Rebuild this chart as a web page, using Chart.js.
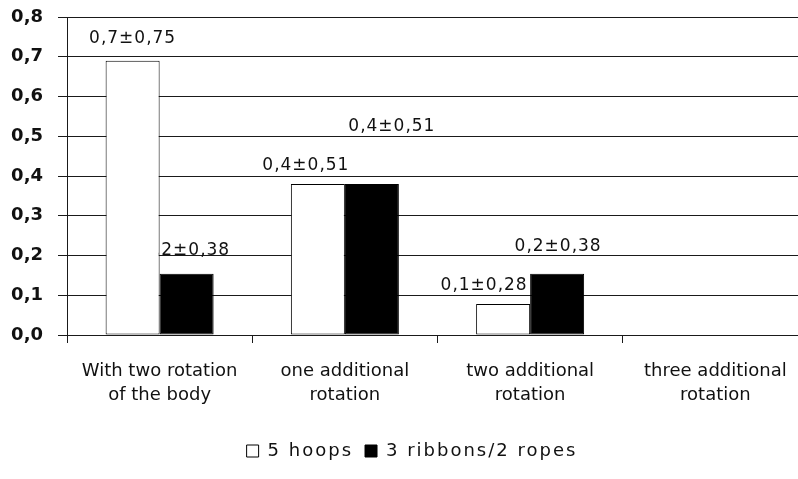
<!DOCTYPE html>
<html>
<head>
<meta charset="utf-8">
<script src="https://cdn.jsdelivr.net/npm/chart.js@4/dist/chart.umd.min.js"></script>
<style>
  html, body { margin: 0; padding: 0; background: #fff; overflow: hidden; }
  #wrap { width: 808px; height: 479px; }
</style>
</head>
<body>
<div id="wrap"><canvas id="chart" width="808" height="479"></canvas></div>
<script>
// Rotation groups on the x axis
const categories = [
  ['With two rotation', 'of the body'],
  ['one additional', 'rotation'],
  ['two additional', 'rotation'],
  ['three additional', 'rotation']
];

// Series names
const seriesNames = ['5 hoops', '3 ribbons/2 ropes'];

// Mean values per group
const hoopsMean   = [0.69, 0.38, 0.078, 0];
const ribbonsMean = [0.154, 0.38, 0.154, 0];

// Standard deviations shown next to the means
const hoopsSD   = [0.75, 0.51, 0.28, null];
const ribbonsSD = [0.38, 0.51, 0.38, null];

// Value axis range
const yMin = 0;
const yMax = 0.8;
const yStep = 0.1;

const FONT = 'DejaVu Sans';
const INK = '#111';

const comma = (v, d) => v.toFixed(d).replace('.', ',');

// Where each mean±SD caption sits relative to the top centre of its bar (dx, dy)
const captionOffsets = [
  [[0, -22], [-12, -18], [-19, -18], null],
  [[0, -23], [20, -57], [1, -27], null]
];
const sdSets = [hoopsSD, ribbonsSD];

// Captions are painted before the bars, so a neighbouring bar may cover part of one
const captionPlugin = {
  id: 'meanSdCaptions',
  beforeDatasetsDraw(chart) {
    const ctx = chart.ctx;
    ctx.save();
    ctx.font = '17px "' + FONT + '"';
    ctx.letterSpacing = '1px';
    ctx.fillStyle = INK;
    ctx.textAlign = 'center';
    ctx.textBaseline = 'middle';
    chart.data.datasets.forEach((ds, di) => {
      const meta = chart.getDatasetMeta(di);
      meta.data.forEach((bar, i) => {
        const sd = sdSets[di][i];
        const off = captionOffsets[di][i];
        if (sd == null || !off) return;
        const text = comma(ds.data[i], 1) + '\u00B1' + comma(sd, 2);
        ctx.fillText(text, bar.x + off[0], bar.y + off[1]);
      });
    });
    ctx.restore();
  }
};

// Legend text gets wider letter spacing and the whole legend sits a little right of centre
const legendStylePlugin = {
  id: 'legendStyle',
  beforeLayout(chart) {
    const lg = chart.legend;
    if (!lg || lg.__styled) return;
    lg.__styled = true;
    const wrap = (name, shiftX) => {
      const orig = lg[name].bind(lg);
      lg[name] = function (...args) {
        const c = chart.ctx;
        c.save();
        c.letterSpacing = '2px';
        if (shiftX) c.translate(shiftX, 0);
        const r = orig(...args);
        c.restore();
        return r;
      };
    };
    wrap('fit', 0);
    wrap('draw', 8);
  }
};

const ctx = document.getElementById('chart').getContext('2d');
const chart = new Chart(ctx, {
  type: 'bar',
  data: {
    labels: categories,
    datasets: [
      {
        label: seriesNames[0],
        data: hoopsMean,
        backgroundColor: '#ffffff',
        borderColor: '#000000',
        borderWidth: 1,
        borderSkipped: false
      },
      {
        label: seriesNames[1],
        data: ribbonsMean,
        backgroundColor: '#000000',
        borderColor: '#000000',
        borderWidth: 1,
        borderSkipped: false
      }
    ]
  },
  options: {
    responsive: false,
    animation: false,
    devicePixelRatio: 1,
    layout: { padding: { left: 0, right: 0, top: 17, bottom: 9 } },
    datasets: {
      bar: { categoryPercentage: 0.583, barPercentage: 1.0 }
    },
    plugins: {
      title: { display: false },
      tooltip: { enabled: false },
      legend: {
        position: 'bottom',
        labels: {
          boxWidth: 12,
          boxHeight: 12,
          padding: 12,
          color: INK,
          font: { family: FONT, size: 18 }
        }
      }
    },
    scales: {
      x: {
        grid: {
          offset: true,
          drawOnChartArea: false,
          drawTicks: true,
          tickLength: 8,
          color: '#1a1a1a'
        },
        border: { display: true, color: '#1a1a1a', width: 1 },
        ticks: {
          color: INK,
          padding: 16,
          maxRotation: 0,
          autoSkip: false,
          font: { family: FONT, size: 18, lineHeight: '24px' }
        },
        afterFit(scale) {
          scale.height = 95;
          scale.paddingLeft = 0;
          scale.paddingRight = 0;
        }
      },
      y: {
        min: yMin,
        max: yMax,
        grid: {
          color: '#1a1a1a',
          lineWidth: 1,
          drawTicks: true,
          tickLength: 9
        },
        border: { display: true, color: '#1a1a1a', width: 1 },
        ticks: {
          stepSize: yStep,
          color: INK,
          padding: 15,
          font: { family: FONT, size: 18, weight: 'bold' },
          callback: (v) => comma(v, 1)
        },
        afterFit(scale) {
          scale.width = 67;
          scale.paddingTop = 0;
          scale.paddingBottom = 0;
        }
      }
    }
  },
  plugins: [captionPlugin, legendStylePlugin]
});
</script>
</body>
</html>
